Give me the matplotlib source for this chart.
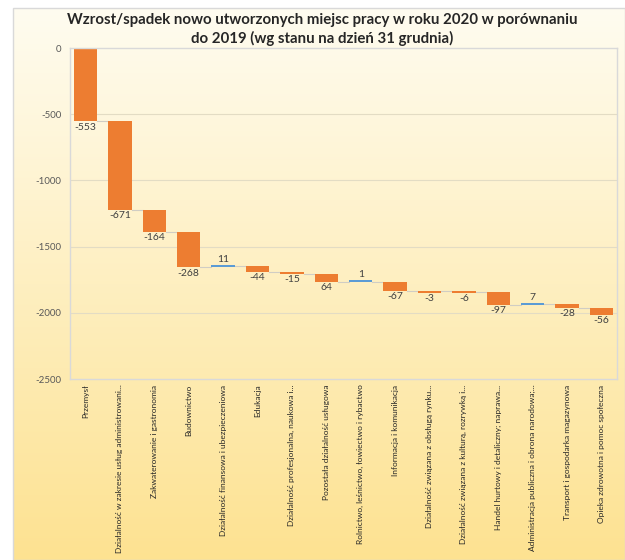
import numpy as np
import matplotlib.pyplot as plt
from matplotlib.patches import Rectangle

# dane
kategorie = [
    'Przemysł',
    'Działalność w zakresie usług administrowani...',
    'Zakwaterowanie i gastronomia',
    'Budownictwo',
    'Działalność finansowa i ubezpieczeniowa',
    'Edukacja',
    'Działalność profesjonalna, naukowa i...',
    'Pozostała działalność usługowa',
    'Rolnictwo, leśnictwo, łowiectwo i rybactwo',
    'Informacja i komunikacja',
    'Działalność związana z obsługą rynku...',
    'Działalność związana z kulturą, rozrywką i...',
    'Handel hurtowy i detaliczny; naprawa...',
    'Administracja publiczna i obrona narodowa;...',
    'Transport i gospodarka magazynowa',
    'Opieka zdrowotna i pomoc społeczna',
]
zmiany = [-553, -671, -164, -268, 11, -44, -15, -64, 1, -67, -3, -6, -97, 7, -28, -56]
etykiety = ['-553', '-671', '-164', '-268', '11', '-44', '-15', '64', '1', '-67', '-3', '-6', '-97', '7', '-28', '-56']
yticks = [0, -500, -1000, -1500, -2000, -2500]

plt.rcParams['font.family'] = ['Lato', 'DejaVu Sans']

W, H = 625, 560
fig = plt.figure(figsize=(W / 100, H / 100), dpi=100)

# tlo z gradientem
bg = fig.add_axes([13 / W, 0, 1 - 13 / W, 1 - 8 / H])
grad = np.linspace(0, 1, 256).reshape(-1, 1)
c_top = np.array([255, 252, 240]) / 255
c_bot = np.array([253, 226, 145]) / 255
img = c_top + (c_bot - c_top) * grad[:, :, None] * np.ones((1, 1, 3))
bg.imshow(img, aspect='auto', extent=[0, 1, 0, 1], origin='upper')
bg.set_xlim(0, 1)
bg.set_ylim(0, 1)
bg.axis('off')
fig.patches.append(Rectangle((13 / W, 0), 1 - 13 / W, 1 - 8 / H, transform=fig.transFigure,
                             fill=False, edgecolor='#d9d9d9', linewidth=1.0))

ax = fig.add_axes([70 / W, 1 - 379 / H, (617 - 70) / W, (379 - 48) / H])
ax.patch.set_alpha(0)

zmiany = np.array(zmiany)
koniec = np.cumsum(zmiany)
start = koniec - zmiany
x = np.arange(len(zmiany))
kolory = ['#ED7D31' if v < 0 else '#5B9BD5' for v in zmiany]

for y in yticks[1:-1]:
    ax.axhline(y, color='#e3dcc4', linewidth=0.8, zorder=0)

# waterfall
szer = 0.68
for i in range(len(zmiany)):
    h = zmiany[i]
    if abs(h) < 14:
        h = 14 * np.sign(h)
    ax.bar(x[i], h, bottom=start[i], width=szer, color=kolory[i], zorder=2)
    if i < len(zmiany) - 1:
        ax.plot([x[i] + szer / 2, x[i + 1] - szer / 2], [koniec[i], koniec[i]],
                color='#d0cdc4', linewidth=0.8, zorder=1)
    if zmiany[i] < 0:
        ax.text(x[i], min(start[i], start[i] + h) - 10, etykiety[i], ha='center', va='top',
                fontsize=7.5, color='#404040')
    else:
        ax.text(x[i], max(start[i], start[i] + h) + 10, etykiety[i], ha='center', va='bottom',
                fontsize=7.5, color='#404040')

ax.set_xlim(-0.45, len(zmiany) - 0.55)
ax.set_ylim(-2500, 0)
ax.set_yticks(yticks)
ax.set_yticklabels([str(v) for v in yticks], fontsize=7, color='#595959')
ax.set_xticks(x)
ax.set_xticklabels(kategorie, rotation=90, fontsize=6, va='top', ha='center', color='#262626')
ax.tick_params(axis='both', length=0, pad=6)
ax.tick_params(axis='x', pad=4)
for s in ax.spines.values():
    s.set_color('#d9d9d9')
    s.set_linewidth(1.0)

fig.text(322 / W, 1 - 20 / H, 'Wzrost/spadek nowo utworzonych miejsc pracy w roku 2020 w porównaniu',
         ha='center', va='center', fontsize=10.8, fontweight='bold', color='#262626')
fig.text(322 / W, 1 - 38 / H, 'do 2019 (wg stanu na dzień 31 grudnia)',
         ha='center', va='center', fontsize=10.8, fontweight='bold', color='#262626')

plt.savefig('out.png', dpi=100)
